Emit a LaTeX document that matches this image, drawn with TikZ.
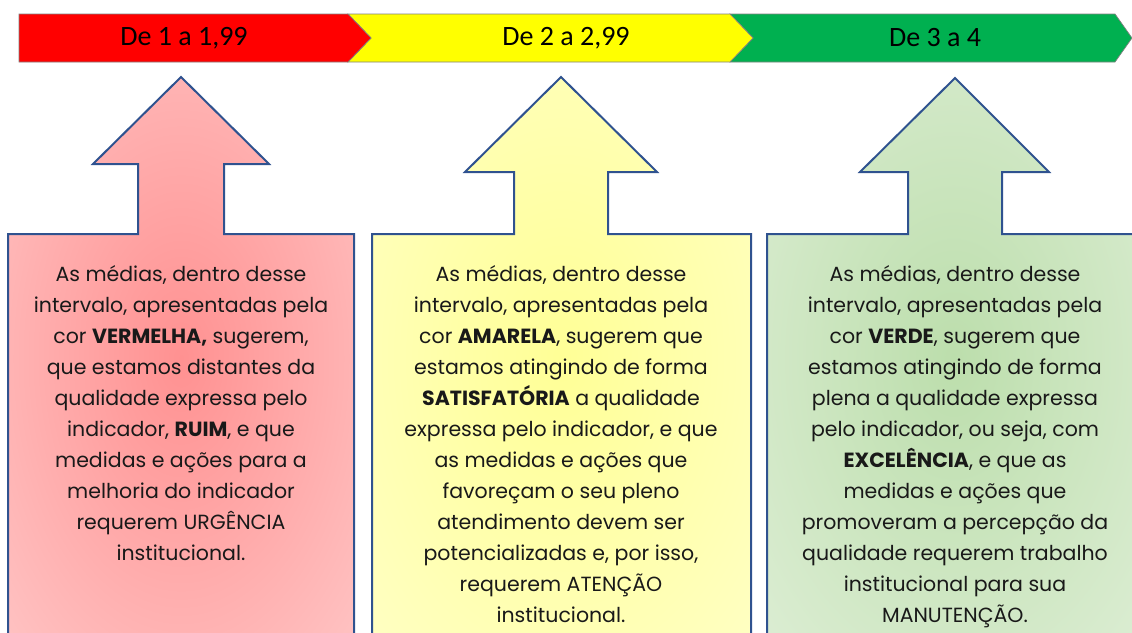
\documentclass[tikz,border=0pt]{standalone}
\usepackage{fontspec}
\setmainfont{Poppins}
\newfontfamily\faixafont{Carlito}
\usetikzlibrary{positioning}
\definecolor{vermelho}{RGB}{255, 0, 0}
\definecolor{amarelo}{RGB}{255, 255, 0}
\definecolor{verde}{RGB}{0, 176, 80}
\definecolor{contorno}{RGB}{47, 82, 143}
\definecolor{textocinza}{RGB}{25, 25, 25}
\definecolor{vermcentro}{RGB}{255, 145, 145}
\definecolor{vermborda}{RGB}{255, 214, 214}
\definecolor{amarcentro}{RGB}{255, 255, 150}
\definecolor{amarborda}{RGB}{255, 255, 212}
\definecolor{verdecentro}{RGB}{188, 222, 172}
\definecolor{verdeborda}{RGB}{232, 243, 226}
\pgfdeclareradialshading{sombraverm}{\pgfpoint{0bp}{0bp}}{color(0bp)=(vermcentro); color(50bp)=(vermborda)}
\pgfdeclareradialshading{sombraamar}{\pgfpoint{0bp}{0bp}}{color(0bp)=(amarcentro); color(50bp)=(amarborda)}
\pgfdeclareradialshading{sombraverde}{\pgfpoint{0bp}{0bp}}{color(0bp)=(verdecentro); color(50bp)=(verdeborda)}

\begin{document}
\begin{tikzpicture}[x=1pt, y=-1pt,
  faixa/.style={draw=gray, line width=0.7pt, line join=miter},
  seta/.style={draw=contorno, line width=2pt, line join=miter},
  rotulo/.style={font=\faixafont\fontsize{28}{30}\selectfont, inner sep=0pt},
  texto/.style={anchor=north, align=center, inner sep=0pt, text=textocinza, font=\fontsize{20.5}{31}\selectfont}
]
  \clip (0, 0) rectangle (1132, 632);

  % faixas de cor
  \draw[faixa, fill=verde] (730, 14) -- (1115, 14) -- (1132, 38) -- (1115, 62) -- (730, 62) -- (753, 38) -- cycle;
  \draw[faixa, fill=amarelo] (348, 14) -- (730, 14) -- (753, 38) -- (730, 62) -- (348, 62) -- (371, 38) -- cycle;
  \draw[faixa, fill=vermelho] (19, 14) -- (348, 14) -- (371, 38) -- (348, 62) -- (19, 62) -- cycle;
  \node[rotulo] (faixa1) at (184, 38) {De 1 a 1,99};
  \node[rotulo] (faixa2) at (566, 38) {De 2 a 2,99};
  \node[rotulo] (faixa3) at (935, 38) {De 3 a 4};

  % setas
  \shadedraw[seta, shading=sombraverm] (181, 77) -- (269, 164) -- (224, 164) -- (224, 234) -- (354, 234)
    -- (354, 640) -- (8, 640) -- (8, 234) -- (138, 234) -- (138, 164) -- (93, 164) -- cycle;
  \shadedraw[seta, shading=sombraamar] (561, 77) -- (657, 172) -- (608, 172) -- (608, 234) -- (751, 234)
    -- (751, 640) -- (372, 640) -- (372, 234) -- (514, 234) -- (514, 172) -- (465, 172) -- cycle;
  \shadedraw[seta, shading=sombraverde] (955, 78) -- (1049, 172) -- (1002, 172) -- (1002, 234) -- (1140, 234)
    -- (1140, 640) -- (767, 640) -- (767, 234) -- (908, 234) -- (908, 172) -- (860, 172) -- cycle;

  \node[texto] (ruim) at (181, 265) {
    As médias, dentro desse\\
    intervalo, apresentadas pela\\
    cor \textbf{VERMELHA,} sugerem,\\
    que estamos distantes da\\
    qualidade expressa pelo\\
    indicador, \textbf{RUIM}, e que\\
    medidas e ações para a\\
    melhoria do indicador\\
    requerem URGÊNCIA\\
    institucional.
  };
  \node[texto] (satisf) at (561, 265) {
    As médias, dentro desse\\
    intervalo, apresentadas pela\\
    cor \textbf{AMARELA}, sugerem que\\
    estamos atingindo de forma\\
    \textbf{SATISFATÓRIA} a qualidade\\
    expressa pelo indicador, e que\\
    as medidas e ações que\\
    favoreçam o seu pleno\\
    atendimento devem ser\\
    potencializadas e, por isso,\\
    requerem ATENÇÃO\\
    institucional.
  };
  \node[texto] (excel) at (955, 265) {
    As médias, dentro desse\\
    intervalo, apresentadas pela\\
    cor \textbf{VERDE}, sugerem que\\
    estamos atingindo de forma\\
    plena a qualidade expressa\\
    pelo indicador, ou seja, com\\
    \textbf{EXCELÊNCIA}, e que as\\
    medidas e ações que\\
    promoveram a percepção da\\
    qualidade requerem trabalho\\
    institucional para sua\\
    MANUTENÇÃO.
  };
\end{tikzpicture}
\end{document}
